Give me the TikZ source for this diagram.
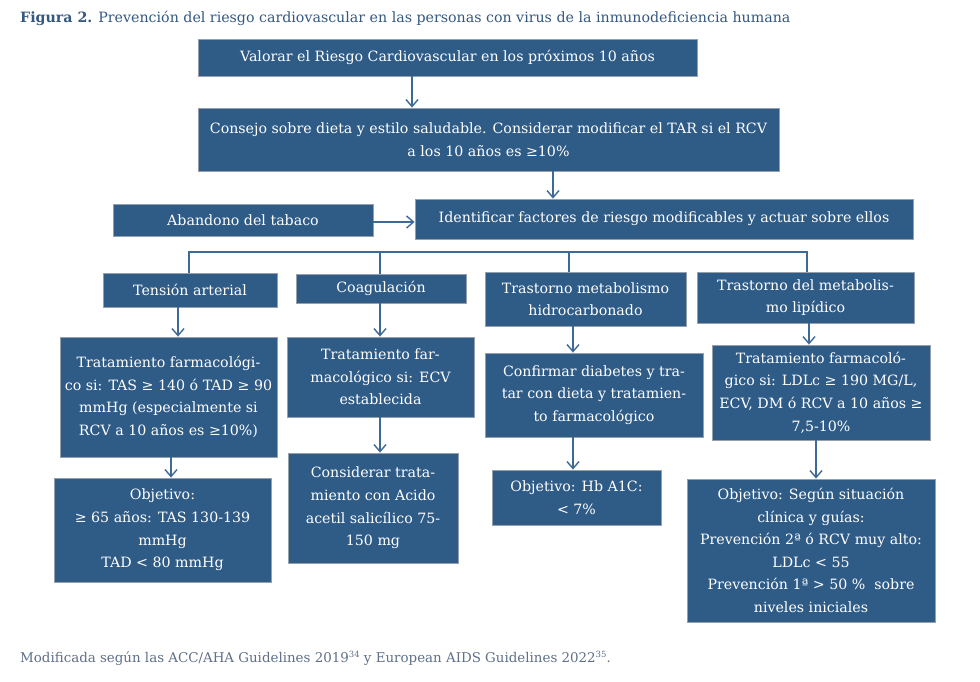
\documentclass[tikz,border=0pt]{standalone}
\usepackage{fontspec}
\setmainfont{DejaVu Serif}
\usetikzlibrary{arrows.meta,calc}
\definecolor{boxfill}{RGB}{47,91,135}
\definecolor{boxline}{RGB}{150,160,172}
\definecolor{connc}{RGB}{62,106,152}
\definecolor{titlec}{RGB}{52,88,128}
\definecolor{capc}{RGB}{95,112,135}
\newcommand\mysup[1]{\raisebox{5pt}{\fontsize{8.5}{10}\selectfont #1}}
\tikzset{
 box/.style={draw=boxline, line width=0.8pt, fill=boxfill, text=white, align=center, inner sep=0pt, font=\fontsize{14.2}{22.6}\selectfont},
 conn/.style={draw=connc, line width=1.6pt},
 arr/.style={conn, -{Straight Barb[length=7pt,width=12pt,line width=1.4pt]}},
}
\begin{document}
\begin{tikzpicture}[x=1pt,y=-1pt]
\useasboundingbox (0,0) rectangle (980,681);
\fill[white] (0,0) rectangle (980,681);

\node[anchor=west, text=titlec, inner sep=0pt, font=\fontsize{14.2}{16}\selectfont] (title) at (20,18) {{\bfseries Figura 2.} Prevención del riesgo cardiovascular en las personas con virus de la inmunodeficiencia humana};

\node[box, minimum width=499pt, minimum height=37pt] (b1) at (447.5,57.5) {Valorar el Riesgo Cardiovascular en los próximos 10 años};
\node[box, minimum width=581pt, minimum height=63pt] (b2) at (488.5,139.5) {Consejo sobre dieta y estilo saludable. Considerar modificar el TAR si el RCV\\a los 10 años es ≥10\%};
\node[box, minimum width=260pt, minimum height=32pt] (b3) at (243,220) {Abandono del tabaco};
\node[box, minimum width=498pt, minimum height=40pt] (b4) at (664,219) {Identificar factores de riesgo modificables y actuar sobre ellos};

\node[box, minimum width=174pt, minimum height=34pt] (tens) at (190,290) {Tensión arterial};
\node[box, minimum width=170pt, minimum height=29pt] (coag) at (381,288.5) {Coagulación};
\node[box, minimum width=201pt, minimum height=54pt] (hidro) at (585.5,299) {Trastorno metabolismo\\hidrocarbonado};
\node[box, minimum width=217pt, minimum height=51pt] (lip) at (805.5,297.5) {Trastorno del metabolis-\\mo lipídico};

\node[box, minimum width=217pt, minimum height=120pt] (tat) at (168.5,397) {Tratamiento farmacológi-\\co si: TAS ≥ 140 ó TAD ≥ 90\\mmHg (especialmente si\\RCV a 10 años es ≥10\%)};
\node[box, minimum width=217pt, minimum height=104pt] (tao) at (162.5,530) {Objetivo:\\≥ 65 años: TAS 130-139\\mmHg\\TAD < 80 mmHg};

\node[box, minimum width=187pt, minimum height=80pt] (cot) at (380.5,377) {Tratamiento far-\\macológico si: ECV\\establecida};
\node[box, minimum width=170pt, minimum height=110pt] (coc) at (373,508) {Considerar trata-\\miento con Acido\\acetil salicílico 75-\\150 mg};

\node[box, minimum width=218pt, minimum height=84pt] (hit) at (594,395) {Confirmar diabetes y tra-\\tar con dieta y tratamien-\\to farmacológico};
\node[box, minimum width=169pt, minimum height=55pt] (hio) at (576.5,497.5) {Objetivo: Hb A1C:\\< 7\%};

\node[box, minimum width=218pt, minimum height=95pt] (lit) at (821,392.5) {Tratamiento farmacoló-\\gico si: LDLc ≥ 190 MG/L,\\ECV, DM ó RCV a 10 años ≥\\7,5-10\%};
\node[box, minimum width=248pt, minimum height=143pt] (lio) at (811,550.5) {Objetivo: Según situación\\clínica y guías:\\Prevención 2ª ó RCV muy alto:\\LDLc < 55\\Prevención 1ª > 50 \%~ sobre\\niveles iniciales};

\node[anchor=west, text=capc, inner sep=0pt, font=\fontsize{13.4}{16}\selectfont] (cap) at (20,658) {Modificada según las ACC/AHA Guidelines 2019\mysup{34} y European AIDS Guidelines 2022\mysup{35}.};

% connectors
\coordinate (x1) at (412,0);
\coordinate (x2) at (553,0);
\coordinate (y3) at (0,222);
\draw[arr] (b1.south -| x1) -- (b2.north -| x1);
\draw[arr] (b2.south -| x2) -- (b4.north -| x2);
\draw[arr] (b3.east |- y3) -- (b4.west |- y3);

\coordinate (busL) at (189,252);
\coordinate (busR) at (807,252);
\coordinate (xc) at (380,0);
\coordinate (xh) at (569,0);
\draw[conn] (tens.north -| busL) -- (busL) -- (busR) -- (lip.north -| busR);
\draw[conn] (coag.north -| xc) -- (xc |- busL);
\draw[conn] (hidro.north -| xh) -- (xh |- busL);

\coordinate (xt1) at (178,0);
\coordinate (xt2) at (171,0);
\draw[arr] (tens.south -| xt1) -- (tat.north -| xt1);
\draw[arr] (tat.south -| xt2) -- (tao.north -| xt2);

\draw[arr] (coag.south -| xc) -- (cot.north -| xc);
\draw[arr] (cot.south -| xc) -- (coc.north -| xc);

\coordinate (xh2) at (573,0);
\draw[arr] (hidro.south -| xh2) -- (hit.north -| xh2);
\draw[arr] (hit.south -| xh2) -- (hio.north -| xh2);

\coordinate (xl1) at (809,0);
\coordinate (xl2) at (816,0);
\draw[arr] (lip.south -| xl1) -- (lit.north -| xl1);
\draw[arr] (lit.south -| xl2) -- (lio.north -| xl2);
\end{tikzpicture}
\end{document}
